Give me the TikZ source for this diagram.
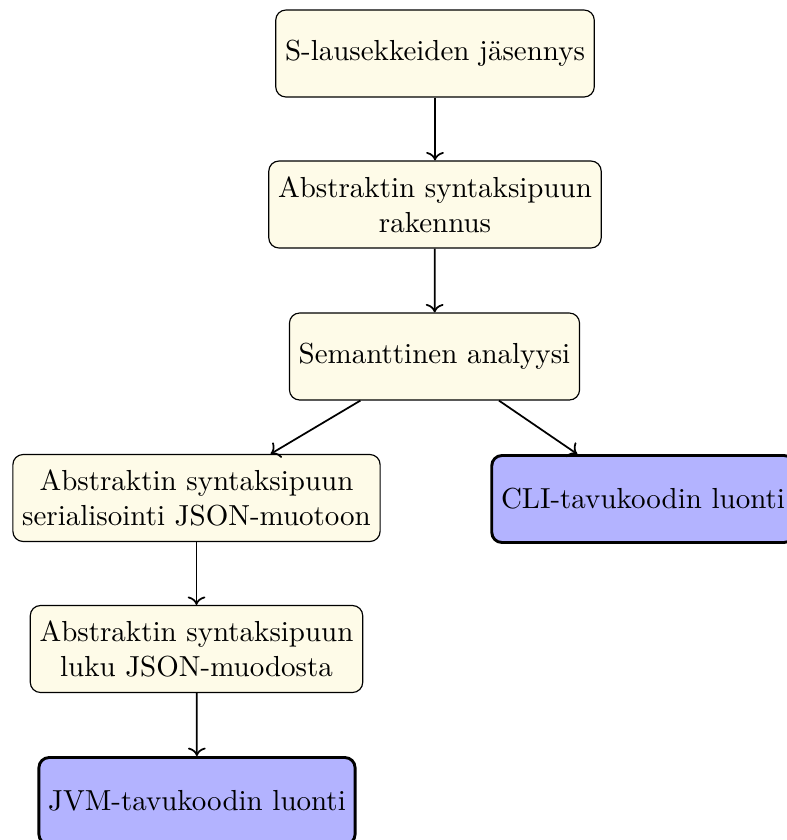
\documentclass[tikz,border=0pt]{standalone}
\usetikzlibrary{arrows.meta}
\definecolor{boxyellow}{HTML}{FEFBE8}
\definecolor{boxblue}{HTML}{B3B3FF}
\begin{document}
\begin{tikzpicture}[x=0.345pt,y=-0.345pt,
  stage/.style={draw=black, fill=boxyellow, rounded corners=3.5pt, align=center,
    minimum height=30pt, inner xsep=3.2pt},
  output/.style={stage, fill=boxblue, line width=1pt},
  flow/.style={->, semithick}]
\useasboundingbox (0,0) rectangle (787,840);
\node[stage] (sexp) at (435,53.5) {S-lausekkeiden jäsennys};
\node[stage] (ast) at (435,204.5) {Abstraktin syntaksipuun\\rakennus};
\node[stage] (sem) at (434.5,356.5) {Semanttinen analyysi};
\node[stage] (ser) at (196.5,498) {Abstraktin syntaksipuun\\serialisointi JSON-muotoon};
\node[output] (cli) at (643,499) {CLI-tavukoodin luonti};
\node[stage] (read) at (196.5,649) {Abstraktin syntaksipuun\\luku JSON-muodosta};
\node[output] (jvm) at (197,801) {JVM-tavukoodin luonti};
\draw[flow] (sexp) -- (ast);
\draw[flow] (ast) -- (sem);
\draw[flow] (sem) -- (ser);
\draw[flow] (sem) -- (cli);
\draw[flow] (ser) -- (read);
\draw[flow] (read) -- (jvm);
\end{tikzpicture}
\end{document}
